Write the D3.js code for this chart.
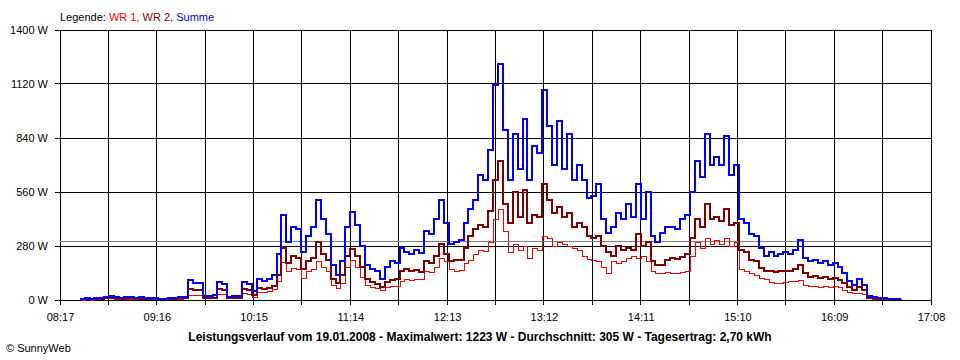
<!DOCTYPE html>
<html>
<head>
<meta charset="utf-8">
<script src="https://cdn.jsdelivr.net/npm/d3@7"></script>
<style>
  html, body { margin: 0; padding: 0; background: #fff; }
  svg { display: block; font-family: "Liberation Sans", Arial, sans-serif; }
</style>
</head>
<body>
<script>
// ---------- DATA ----------
const timeLabels = ["08:17","09:16","10:15","11:14","12:13","13:12","14:11","15:10","16:09","17:08"];
const powerTicks = [0, 280, 560, 840, 1120, 1400];
const averageW = 305;
const startTime = "08:29";
const intervalMin = 3;
const legendLabel = "Legende: ";
const seriesNames = ["WR 1", "WR 2", "Summe"];
const titleText = "Leistungsverlauf vom 19.01.2008 - Maximalwert: 1223 W - Durchschnitt: 305 W - Tagesertrag: 2,70 kWh";
const creditText = "\u00A9 SunnyWeb";

const summe = [
  5,8,5,10,8,18,22,15,12,15,
  15,12,13,12,10,8,6,6,8,12,
  15,18,105,88,88,20,22,25,95,85,
  18,20,22,95,85,45,110,100,110,130,
  240,440,300,380,370,250,330,380,520,420,
  340,180,130,200,380,458,390,280,180,160,
  150,110,170,200,190,270,250,240,260,245,
  360,340,420,520,400,290,300,310,400,470,
  520,650,620,780,1115,1223,880,620,860,680,
  940,620,800,760,1090,900,700,930,680,860,
  620,700,620,530,540,600,420,350,380,450,
  420,500,430,600,420,560,330,300,350,380,
  380,370,420,440,560,720,640,860,700,740,
  700,850,650,700,420,400,340,330,270,230,
  250,230,240,250,240,260,310,220,200,210,
  190,200,180,190,170,140,100,80,110,80,
  20,15,8,8,6,6,6,6
];
const wr2 = [
  3,4,3,5,4,9,11,8,6,8,
  8,6,7,6,5,4,3,3,4,6,
  8,9,55,50,52,10,11,12,57,52,
  9,10,11,58,52,25,60,58,62,75,
  130,270,190,230,220,160,200,220,300,240,
  210,110,90,130,230,265,230,170,110,95,
  85,70,95,105,110,150,160,150,155,145,
  200,190,230,290,240,200,210,205,270,330,
  370,390,380,460,620,720,500,400,560,430,
  570,400,440,430,600,520,450,480,430,450,
  380,400,380,330,320,330,280,250,230,280,
  260,270,260,340,280,300,200,180,180,210,
  220,215,225,240,320,420,380,500,420,430,
  410,470,390,400,260,250,210,200,165,150,
  150,145,150,150,150,160,180,140,120,125,
  115,120,110,115,105,90,65,50,70,50,
  10,8,4,4,3,3,3,3
];
const wr1 = [
  2,4,2,5,4,9,11,7,6,7,
  7,6,6,6,5,4,3,3,4,6,
  7,9,28,27,26,8,9,10,32,30,
  8,9,10,35,33,18,42,40,45,55,
  100,195,150,165,160,115,150,160,200,170,
  150,80,60,90,170,210,170,120,80,70,
  60,50,70,75,75,100,110,105,110,110,
  150,145,170,220,200,160,150,155,190,210,
  240,260,255,300,420,470,360,250,290,260,
  280,220,270,260,330,320,280,300,290,280,
  270,260,230,215,210,200,170,140,200,190,
  200,220,230,220,230,200,150,140,140,145,
  140,140,145,150,230,300,270,320,290,310,
  290,320,280,300,160,150,140,130,115,110,
  95,90,90,95,100,100,105,80,75,75,
  70,75,70,75,65,50,40,35,38,30,
  8,6,3,3,3,3,3,3
];
const seriesColors = ["#ff0000", "#800000", "#0000ff"];

// ---------- HELPERS ----------
const toMin = s => { const [h, m] = s.split(":").map(Number); return h * 60 + m; };
const fmt = m => String(Math.floor(m / 60)).padStart(2, "0") + ":" + String(Math.round(m % 60)).padStart(2, "0");
const snap = v => Math.round(v) + 0.5;

// ---------- LAYOUT ----------
const W = 960, H = 360;
const svg = d3.select("body").append("svg").attr("width", W).attr("height", H);
svg.append("rect").attr("width", W).attr("height", H).attr("fill", "#fff");

const t0 = toMin(timeLabels[0]), t1 = toMin(timeLabels[timeLabels.length - 1]);
const x = d3.scaleLinear().domain([t0, t1]).range([60, 931]);
const y = d3.scaleLinear().domain([0, 1400]).range([300, 30]);

const halfStep = (toMin(timeLabels[1]) - t0) / 2;
const allTicks = d3.range(0, (timeLabels.length - 1) * 2 + 1).map(k => t0 + k * halfStep);

// Grid
const grid = svg.append("g").attr("shape-rendering", "crispEdges");
grid.selectAll("line.v").data(allTicks).join("line")
  .attr("x1", d => snap(x(d) - 0.5)).attr("x2", d => snap(x(d) - 0.5))
  .attr("y1", y(1400)).attr("y2", y(0) + 5)
  .attr("stroke", "#000").attr("stroke-width", 1);
grid.selectAll("line.h").data(powerTicks).join("line")
  .attr("x1", x(t0) - 5).attr("x2", x(t1))
  .attr("y1", d => snap(y(d) - 0.5)).attr("y2", d => snap(y(d) - 0.5))
  .attr("stroke", "#000").attr("stroke-width", 1);
grid.append("line")
  .attr("x1", x(t0)).attr("x2", x(t1))
  .attr("y1", snap(y(averageW) - 0.5)).attr("y2", snap(y(averageW) - 0.5))
  .attr("stroke", "#808080").attr("stroke-width", 1);

// Axes (labels)
const xAxis = d3.axisBottom(x).tickValues(allTicks).tickSize(0).tickPadding(13)
  .tickFormat((d, i) => i % 2 === 0 ? fmt(d) : "");
const gx = svg.append("g").attr("transform", `translate(0,${y(0)})`).call(xAxis);
gx.select(".domain").remove();
gx.selectAll("text").attr("font-size", 11).attr("font-family", "Liberation Sans, Arial, sans-serif").attr("fill", "#000");

const yAxis = d3.axisLeft(y).tickValues(powerTicks).tickSize(0).tickPadding(12)
  .tickFormat(d => d + " W");
const gy = svg.append("g").attr("transform", `translate(${x(t0)},0)`).call(yAxis);
gy.select(".domain").remove();
gy.selectAll("text").attr("font-size", 11).attr("font-family", "Liberation Sans, Arial, sans-serif").attr("fill", "#000");

// Series
const start = toMin(startTime);
const line = d3.line()
  .x((d, i) => Math.round(x(start + i * intervalMin)))
  .y(d => Math.round(y(d)))
  .curve(d3.curveStepAfter);
const seriesData = [wr1, wr2, summe];
const widths = [1, 2, 2];
svg.append("g").attr("shape-rendering", "crispEdges").selectAll("path").data(seriesData).join("path")
  .attr("d", d => line(d))
  .attr("fill", "none")
  .attr("stroke", (d, i) => seriesColors[i])
  .attr("stroke-width", (d, i) => widths[i])
  .attr("transform", (d, i) => widths[i] % 2 ? "translate(0.5,0.5)" : null)
  .attr("stroke-linejoin", "miter");

// Legend
const leg = svg.append("text").attr("x", 60).attr("y", 21).attr("font-size", 11);
leg.append("tspan").text(legendLabel).attr("fill", "#000");
seriesNames.forEach((n, i) => {
  leg.append("tspan").text(n + (i < seriesNames.length - 1 ? ", " : "")).attr("fill", seriesColors[i]);
});

// Title
svg.append("text").attr("x", 480).attr("y", 341).attr("text-anchor", "middle")
  .attr("font-size", 12).attr("font-weight", "bold").attr("fill", "#000").text(titleText);
svg.append("text").attr("x", 6).attr("y", 352).attr("font-size", 11).attr("fill", "#000").text(creditText);
</script>
</body>
</html>
